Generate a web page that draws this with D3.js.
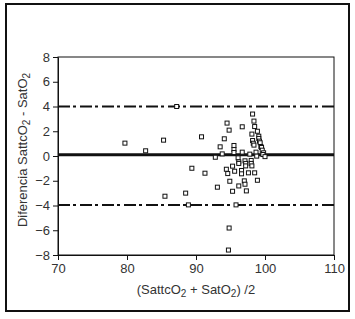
<!DOCTYPE html>
<html lang="es">
    <head>
        <meta charset="utf-8">
        <title>Bland-Altman SattcO2</title>
        <script src="https://d3js.org/d3.v7.min.js"></script>
        <style>
            * {
                margin: 0;
                padding: 0;
            }
            body {
                background-color: white;
                width: 355px;
                height: 319px;
                overflow: hidden;
            }
            text {
                font-family: "Liberation Sans", Arial, sans-serif;
                fill: #333;
            }
        </style>
    </head>
    <body>
        <main></main>
        <script>

            // promedio (SattcO2 + SatO2)/2
            const meanVals = [79.7, 82.7, 85.3, 85.5, 87.2, 88.5, 88.9, 89.4, 90.8, 91.3,
                92.8, 93.1, 93.5, 93.8, 94.1, 94.4, 94.5, 94.6, 94.8, 94.9,
                94.8, 94.7, 95.3, 95.3, 95.5, 95.5, 95.6, 95.5, 95.8, 96.1,
                96.2, 96.2, 96.2, 96.6, 96.6, 96.7, 96.7, 97.0, 97.1, 97.1,
                97.2, 97.2, 97.3, 97.6, 97.8, 98.0, 98.0, 98.1, 98.1, 98.2,
                98.2, 98.3, 98.4, 98.4, 98.5, 98.5, 98.7, 98.8, 98.9, 98.9,
                99.1, 99.1, 99.2, 99.3, 99.4, 99.5, 99.6, 99.8, 99.7, 100.0];

            // diferencia SattcO2 - SatO2
            const diffVals = [1.04, 0.42, 1.28, -3.25, 4.0, -3.0, -3.95, -0.99, 1.55, -1.39,
                -0.1, -2.52, 0.74, 0.17, 1.39, -1.07, 2.66, -1.42, 2.09, -2.04,
                -5.82, -7.6, -0.82, -2.85, 0.85, 0.52, -1.23, 0.28, -3.95, -0.15,
                -0.47, -0.6, -2.42, -1.17, -1.44, 0.31, 2.36, -2.01, -2.28, -0.39,
                -0.6, -0.8, -2.82, -1.36, 0.15, -0.36, -0.6, 1.77, -0.8, 3.39,
                1.25, 1.03, 2.82, 0.88, 2.38, -1.36, 0.31, -0.01, 2.0, -1.96,
                1.6, 1.42, 1.2, 1.07, 0.77, 0.69, 0.47, 0.26, 0.12, -0.05];

            const biasVal = 0.1;
            const limitVals = [4.0, -3.95];

            const xTicks = [70, 80, 90, 100, 110];
            const yTicks = [-8, -6, -4, -2, 0, 2, 4, 6, 8];

            const w = 355;
            const h = 319;
            const margin = {top: 57, right: 21, bottom: 64, left: 58};

            const svg = d3.select("main")
                .append("svg")
                .attr("width", w)
                .attr("height", h);

            // marco exterior
            svg.append("rect")
                .attr("x", 6)
                .attr("y", 4)
                .attr("width", 343)
                .attr("height", 307)
                .attr("fill", "none")
                .attr("stroke", "#111")
                .attr("stroke-width", 2);

            const xScale = d3.scaleLinear()
                .domain([70, 110])
                .range([margin.left, w - margin.right]);

            const yScale = d3.scaleLinear()
                .domain([-8, 8])
                .range([h - margin.bottom, margin.top]);

            // caja del grafico
            svg.append("rect")
                .attr("x", xScale(70))
                .attr("y", yScale(8))
                .attr("width", xScale(110) - xScale(70))
                .attr("height", yScale(-8) - yScale(8))
                .attr("fill", "none")
                .attr("stroke", "#111")
                .attr("stroke-width", 1);

            const xAxis = d3.axisBottom(xScale)
                .tickValues(xTicks)
                .tickSize(5)
                .tickSizeOuter(0)
                .tickPadding(4);

            const gx = svg.append("g")
                .attr("transform", `translate(0, ${yScale(-8)})`)
                .call(xAxis);

            const yAxis = d3.axisLeft(yScale)
                .tickValues(yTicks)
                .tickSize(5)
                .tickSizeOuter(0)
                .tickPadding(3)
                .tickFormat(d => d < 0 ? "\u2212" + Math.abs(d) : d);

            const gy = svg.append("g")
                .attr("transform", `translate(${xScale(70)}, 0)`)
                .call(yAxis);

            [gx, gy].forEach(g => {
                g.select(".domain").attr("stroke", "#111");
                g.selectAll(".tick line").attr("stroke", "#111");
                g.selectAll(".tick text")
                    .attr("font-size", "13px")
                    .attr("font-family", "Liberation Sans, Arial, sans-serif")
                    .attr("fill", "#333");
            });

            // limites de concordancia
            svg.selectAll("line.limit")
                .data(limitVals)
                .enter()
                .append("line")
                .attr("class", "limit")
                .attr("x1", xScale(70))
                .attr("x2", xScale(110))
                .attr("y1", d => yScale(d))
                .attr("y2", d => yScale(d))
                .attr("stroke", "#111")
                .attr("stroke-width", 2)
                .attr("stroke-dasharray", "12,3,3,4");

            // sesgo medio
            svg.append("line")
                .attr("x1", xScale(70))
                .attr("x2", xScale(110))
                .attr("y1", yScale(biasVal))
                .attr("y2", yScale(biasVal))
                .attr("stroke", "#111")
                .attr("stroke-width", 3);

            const pts = meanVals.map((m, i) => [m, diffVals[i]]);
            const s = 4;

            svg.selectAll("rect.pt")
                .data(pts)
                .enter()
                .append("rect")
                .attr("class", "pt")
                .attr("x", d => xScale(d[0]) - s / 2)
                .attr("y", d => yScale(d[1]) - s / 2)
                .attr("width", s)
                .attr("height", s)
                .attr("fill", "white")
                .attr("stroke", "#111")
                .attr("stroke-width", 1);

            // titulos de ejes
            const xLabel = svg.append("text")
                .attr("x", (xScale(70) + xScale(110)) / 2)
                .attr("y", 294)
                .attr("text-anchor", "middle")
                .attr("font-size", "13px");
            xLabel.append("tspan").text("(SattcO");
            xLabel.append("tspan").attr("dy", 3).attr("font-size", "10px").text("2");
            xLabel.append("tspan").attr("dy", -3).text(" + SatO");
            xLabel.append("tspan").attr("dy", 3).attr("font-size", "10px").text("2");
            xLabel.append("tspan").attr("dy", -3).text(") /2");

            const yLabel = svg.append("text")
                .attr("transform", `translate(27, ${(yScale(8) + yScale(-8)) / 2 - 6}) rotate(-90)`)
                .attr("text-anchor", "middle")
                .attr("font-size", "13px");
            yLabel.append("tspan").text("Diferencia SattcO");
            yLabel.append("tspan").attr("dy", 3).attr("font-size", "10px").text("2");
            yLabel.append("tspan").attr("dy", -3).text(" - SatO");
            yLabel.append("tspan").attr("dy", 3).attr("font-size", "10px").text("2");

        </script>
    </body>
</html>
